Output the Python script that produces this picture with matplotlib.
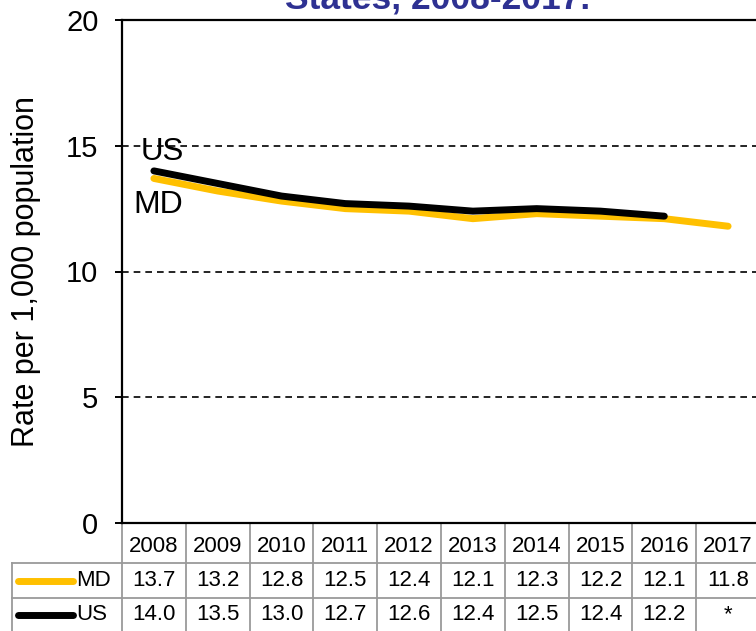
import matplotlib
matplotlib.use("Agg")
import matplotlib.pyplot as plt
from matplotlib.transforms import blended_transform_factory
from matplotlib.lines import Line2D

plt.rcParams['font.family'] = ['Liberation Sans', 'DejaVu Sans']

years = ['2008', '2009', '2010', '2011', '2012', '2013', '2014', '2015', '2016', '2017']
md = [13.7, 13.2, 12.8, 12.5, 12.4, 12.1, 12.3, 12.2, 12.1, 11.8]
us = [14.0, 13.5, 13.0, 12.7, 12.6, 12.4, 12.5, 12.4, 12.2]
us_labels = ['14.0', '13.5', '13.0', '12.7', '12.6', '12.4', '12.5', '12.4', '12.2', '*']
md_labels = ['%.1f' % v for v in md]
yticks = [0, 5, 10, 15, 20]

MD_COLOR = '#FFC000'
US_COLOR = '#000000'
TITLE_COLOR = '#2E3192'

fig = plt.figure(figsize=(7.56, 6.31), dpi=100)
ax = fig.add_axes([122/756, 108/631, 638/756, 503/631])

x_md = list(range(len(md)))
x_us = list(range(len(us)))
ax.plot(x_md, md, color=MD_COLOR, lw=5, solid_capstyle='round', solid_joinstyle='round', zorder=3)
ax.plot(x_us, us, color=US_COLOR, lw=5, solid_capstyle='round', solid_joinstyle='round', zorder=4)

ax.set_xlim(-0.5, len(years) - 0.5)
ax.set_ylim(0, 20)
ax.set_yticks(yticks)
ax.set_xticks([])
for yv in yticks[1:-1]:
    ax.axhline(yv, color='black', lw=1.2, ls=(0, (4, 3)), zorder=1)

for s in ax.spines.values():
    s.set_linewidth(1.6)
    s.set_color('black')
ax.tick_params(axis='y', direction='out', length=5, width=1.4, labelsize=21, pad=12)

ax.set_ylabel('Rate per 1,000 population', fontsize=22)
ax.yaxis.set_label_coords(-0.127, 0.5)

ax.text(0.13, 14.75, 'US', fontsize=22.5, ha='center', va='center', zorder=5)
ax.text(0.07, 12.64, 'MD', fontsize=23, ha='center', va='center', zorder=5)

fig.text(438/756, 1 - 8/631, 'States, 2008-2017.', fontsize=25.5, fontweight='bold',
         color=TITLE_COLOR, ha='center', va='baseline')

# data table below the axes
tr = blended_transform_factory(ax.transData, ax.transAxes)
def ya(py):
    return (523 - py) / 503

grid_c = '#9a9a9a'
legend_left = (12 - 154) / 63.8
y_h0, y_h1, y_m1, y_u1 = ya(523), ya(563), ya(598), ya(640)
for i in range(len(years) + 1):
    ax.add_line(Line2D([i - 0.5, i - 0.5], [y_h0, y_u1], transform=tr, color=grid_c, lw=1.3, clip_on=False))
ax.add_line(Line2D([legend_left, legend_left], [y_h1, y_u1], transform=tr, color=grid_c, lw=1.3, clip_on=False))
for yy in (y_h1, y_m1):
    ax.add_line(Line2D([legend_left, len(years) - 0.5], [yy, yy], transform=tr, color=grid_c, lw=1.3, clip_on=False))

fs = 16
for i, y in enumerate(years):
    ax.text(i, ya(546), y, transform=tr, ha='center', va='center', fontsize=fs, clip_on=False)
    ax.text(i, ya(581), md_labels[i], transform=tr, ha='center', va='center', fontsize=fs, clip_on=False)
    ax.text(i, ya(615), us_labels[i], transform=tr, ha='center', va='center', fontsize=fs, clip_on=False)

lx0, lx1 = (18 - 154) / 63.8, (73 - 154) / 63.8
tx = (76 - 154) / 63.8
for name, color, py in (('MD', MD_COLOR, 581), ('US', US_COLOR, 615)):
    ax.add_line(Line2D([lx0, lx1], [ya(py), ya(py)], transform=tr, color=color, lw=5,
                       solid_capstyle='round', clip_on=False))
    ax.text(tx, ya(py), name, transform=tr, ha='left', va='center', fontsize=fs, clip_on=False)

fig.savefig('out.png', dpi=100)
